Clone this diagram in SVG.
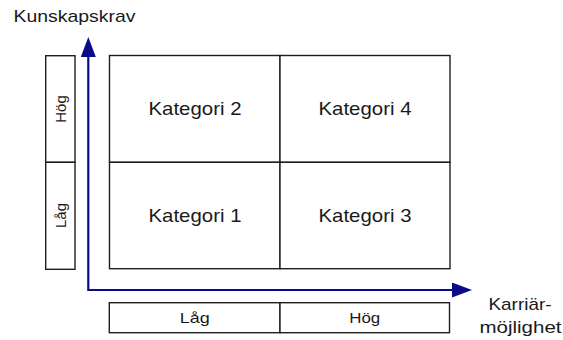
<svg xmlns="http://www.w3.org/2000/svg" width="563" height="340" viewBox="0 0 563 340">
  <style>
    .box { fill: #ffffff; stroke: #1e1e1e; stroke-width: 1.4; }
    .lbl { font-family: "Liberation Sans", Arial, sans-serif; fill: #1a1a1a; text-anchor: middle; }
    .cat { font-size: 19px; }
    .lvl { font-size: 15px; }
    .ax  { font-size: 17px; }
    .axis { fill: none; stroke: #0b0b8a; stroke-width: 2.2; }
  </style>
  <defs>
    <marker id="head" viewBox="0 0 20 15" markerUnits="userSpaceOnUse" markerWidth="20" markerHeight="15" refX="2" refY="7.5" orient="auto-start-reverse">
      <path d="M0,0 L20,7.5 L0,15 z" fill="#0b0b8a"/>
    </marker>
  </defs>

  <rect width="563" height="340" fill="#ffffff"/>

  <!-- axis titles -->
  <g id="label-kunskapskrav">
    <text class="lbl ax" x="74.5" y="22.3" textLength="122" lengthAdjust="spacingAndGlyphs">Kunskapskrav</text>
  </g>
  <g id="label-karriarmojlighet">
    <text class="lbl ax" x="520" y="310" textLength="63" lengthAdjust="spacingAndGlyphs">Karriär-</text>
    <text class="lbl ax" x="520.5" y="333" textLength="82" lengthAdjust="spacingAndGlyphs">möjlighet</text>
  </g>

  <!-- level scale on the vertical axis -->
  <g id="level-y-hog">
    <rect class="box" x="45.7" y="55.7" width="29.3" height="106.6"/>
    <text class="lbl lvl" transform="translate(65.5,109) rotate(-90)">Hög</text>
  </g>
  <g id="level-y-lag">
    <rect class="box" x="45.7" y="162.3" width="29.3" height="107"/>
    <text class="lbl lvl" transform="translate(65.5,215.5) rotate(-90)">Låg</text>
  </g>

  <!-- category matrix -->
  <g id="kategori-2">
    <rect class="box" x="109.5" y="55.5" width="170.5" height="106.8"/>
    <text class="lbl cat" x="195" y="115" textLength="93" lengthAdjust="spacingAndGlyphs">Kategori 2</text>
  </g>
  <g id="kategori-4">
    <rect class="box" x="280" y="55.5" width="170" height="106.8"/>
    <text class="lbl cat" x="365" y="115" textLength="93" lengthAdjust="spacingAndGlyphs">Kategori 4</text>
  </g>
  <g id="kategori-1">
    <rect class="box" x="109.5" y="162.3" width="170.5" height="106.4"/>
    <text class="lbl cat" x="195" y="221.5" textLength="93" lengthAdjust="spacingAndGlyphs">Kategori 1</text>
  </g>
  <g id="kategori-3">
    <rect class="box" x="280" y="162.3" width="170" height="106.4"/>
    <text class="lbl cat" x="365" y="221.5" textLength="93" lengthAdjust="spacingAndGlyphs">Kategori 3</text>
  </g>

  <!-- level scale on the horizontal axis -->
  <g id="level-x-lag">
    <rect class="box" x="109.3" y="302.7" width="170.7" height="30"/>
    <text class="lbl lvl" x="194.7" y="323.3" textLength="30" lengthAdjust="spacingAndGlyphs">Låg</text>
  </g>
  <g id="level-x-hog">
    <rect class="box" x="280" y="302.7" width="169.5" height="30"/>
    <text class="lbl lvl" x="364.7" y="323.3" textLength="31" lengthAdjust="spacingAndGlyphs">Hög</text>
  </g>

  <!-- axes -->
  <g id="connectors">
    <path class="axis" d="M88.3,55 V290 H454" marker-start="url(#head)" marker-end="url(#head)"/>
  </g>
</svg>
